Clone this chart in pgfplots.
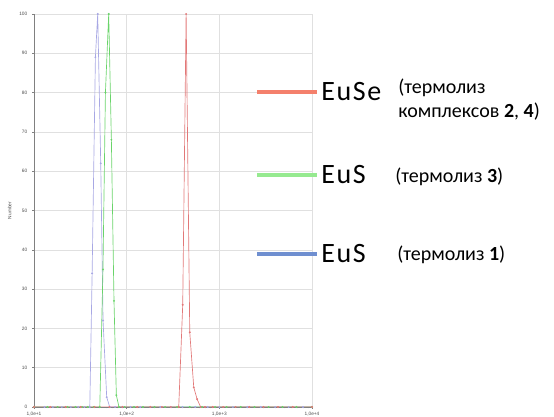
\documentclass[border=0pt]{standalone}
\usepackage{pgfplots}
\pgfplotsset{compat=1.18}
\usepackage{fontspec}
\setmainfont{Carlito}
\newfontfamily\bigfont[LetterSpace=6]{Carlito}
\newfontfamily\arial{Liberation Sans}
\definecolor{cblue}{HTML}{A8A8E4}
\definecolor{cgreen}{HTML}{6AD46A}
\definecolor{cred}{HTML}{E27878}
\definecolor{lred}{HTML}{F4806C}
\definecolor{lgreen}{HTML}{96EA90}
\definecolor{lblue}{HTML}{6F8FD0}
\begin{document}
\begin{tikzpicture}
\path[use as bounding box] (0pt,0pt) rectangle (415.5pt,312.75pt);
\begin{axis}[at={(25.5pt,7.5pt)}, anchor=south west, scale only axis,
  width=208.5pt, height=294.75pt,
  xmode=log, xmin=10, xmax=10000, ymin=0, ymax=100,
  ytick={0,10,...,100},
  xtick={10,100,1000,10000},
  xticklabels={{1,0e+1},{1,0e+2},{1,0e+3},{1,0e+4}},
  grid=major, major grid style={black!12, line width=0.4pt},
  axis x line*=bottom, axis y line*=left,
  axis line style={black!50, line width=0.6pt, -},
  tick align=outside, major tick length=1.5pt, minor tick length=1pt,
  tick style={black!50, line width=0.3pt},
  /pgf/number format/assume math mode=true,
  tick label style={font=\arial\fontsize{3.6}{4}\selectfont, text=black!70},
  xticklabel style={yshift=1pt},
  ylabel={Number},
  ylabel style={font=\arial\fontsize{3.6}{4}\selectfont, text=black!70, yshift=-1pt},
  every axis plot/.append style={line width=0.5pt, mark=*, mark size=0.45pt},
]
\addplot[cblue, mark options={fill=cblue}] coordinates {
(10,0)(13,0)(16,0)(20,0)(25,0)(30,0)(35,0)(40,0)(42.4,34)(46,89)(48.7,100)(52.5,62)(55.6,22)(60.9,2.5)(65.6,0)(75,0)(90,0)(110,0)(140,0)(180,0)(230,0)(300,0)(400,0)(550,0)(750,0)(1000,0)(1400,0)(2000,0)(2800,0)(4000,0)(5600,0)(8000,0)(10000,0)};
\addplot[cgreen, mark options={fill=cgreen}] coordinates {
(10,0)(14,0)(18,0)(23,0)(28,0)(33,0)(38,0)(44,0)(51.3,0)(55.5,35)(59,80)(64,100)(68.4,68)(73,27)(77.4,3)(82.6,0)(95,0)(120,0)(150,0)(200,0)(260,0)(350,0)(480,0)(650,0)(900,0)(1200,0)(1700,0)(2400,0)(3400,0)(4800,0)(6800,0)(10000,0)};
\addplot[cred, mark options={fill=cred}] coordinates {
(10,0)(15,0)(22,0)(32,0)(45,0)(65,0)(90,0)(130,0)(180,0)(240,0)(300,0)(364.7,0)(402.7,26)(438.2,100)(479.6,19)(529.7,5)(575.7,2)(629,0)(700,0)(850,0)(1100,0)(1500,0)(2100,0)(3000,0)(4300,0)(6200,0)(10000,0)};
\end{axis}
\begin{scope}[x=0.75pt,y=0.75pt]
\draw[lred, line width=2.3pt] (257,417-92) -- (317,417-92);
\draw[lgreen, line width=2.3pt] (257,417-175) -- (317,417-175);
\draw[lblue, line width=2.3pt] (257,417-254) -- (317,417-254);
\node[anchor=west, inner sep=0pt, font=\bigfont\fontsize{21}{24}\selectfont] at (321,417-92) {EuSe};
\node[anchor=west, inner sep=0pt, font=\bigfont\fontsize{21}{24}\selectfont] at (321,417-175) {EuS};
\node[anchor=west, inner sep=0pt, font=\bigfont\fontsize{21}{24}\selectfont] at (321,417-254) {EuS};
\node[anchor=west, inner sep=0pt, font=\fontsize{15}{17}\selectfont] at (398,417-88) {(термолиз};
\node[anchor=west, inner sep=0pt, font=\fontsize{15}{17}\selectfont] at (398,417-112) {комплексов \textbf{2}, \textbf{4})};
\node[anchor=west, inner sep=0pt, font=\fontsize{15}{17}\selectfont] at (395,417-177) {(термолиз \textbf{3})};
\node[anchor=west, inner sep=0pt, font=\fontsize{15}{17}\selectfont] at (397,417-255) {(термолиз \textbf{1})};
\end{scope}
\end{tikzpicture}
\end{document}
